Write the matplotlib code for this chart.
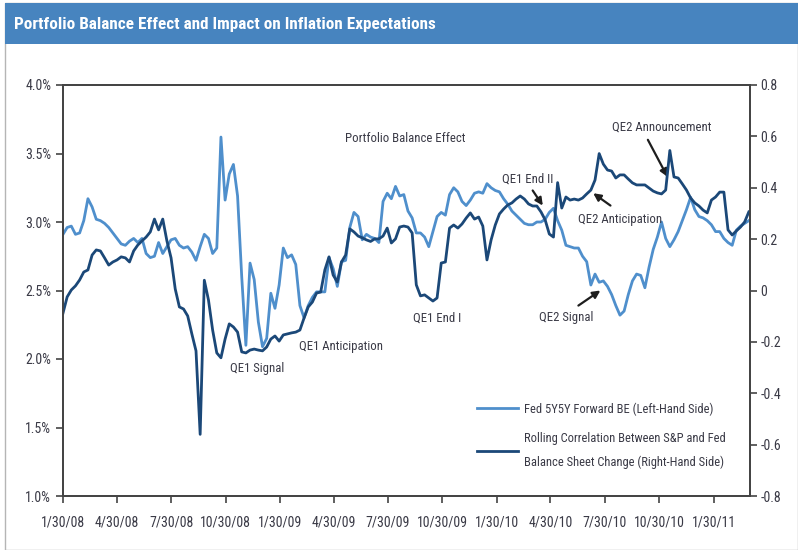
import matplotlib
matplotlib.use("Agg")
import matplotlib.pyplot as plt
import pandas as pd
from matplotlib import font_manager
from matplotlib.patches import Rectangle

avail = {f.name for f in font_manager.fontManager.ttflist}
cands = ['Roboto Condensed', 'Noto Sans Condensed', 'Liberation Sans Narrow',
         'Open Sans Condensed', 'Arial Narrow', 'Roboto', 'DejaVu Sans']
FONT = next(c for c in cands if c in avail)
plt.rcParams['font.family'] = [FONT, 'DejaVu Sans']

# ---------------- data ----------------
start_date = '2008-01-30'
n_weeks = 166

be_5y5y = [
    2.91, 2.96, 2.97, 2.91, 2.92, 3.01, 3.17, 3.11, 3.02, 3.01,
    2.99, 2.96, 2.92, 2.88, 2.84, 2.83, 2.86, 2.88, 2.85, 2.88,
    2.77, 2.74, 2.75, 2.85, 2.77, 2.82, 2.87, 2.88, 2.83, 2.81,
    2.82, 2.78, 2.72, 2.82, 2.91, 2.88, 2.77, 2.81, 3.62, 3.16,
    3.35, 3.42, 3.19, 2.60, 2.10, 2.70, 2.58, 2.27, 2.09, 2.15,
    2.48, 2.37, 2.54, 2.81, 2.74, 2.76, 2.69, 2.39, 2.30, 2.39,
    2.45, 2.49, 2.49, 2.49, 2.74, 2.66, 2.53, 2.71, 2.72, 2.96,
    3.07, 3.04, 2.87, 2.91, 2.89, 2.88, 2.85, 3.15, 3.21, 3.17,
    3.26, 3.19, 3.20, 3.08, 3.03, 2.92, 2.92, 2.89, 2.82, 2.93,
    3.04, 3.07, 3.05, 3.20, 3.25, 3.22, 3.15, 3.12, 3.16, 3.21,
    3.22, 3.21, 3.28, 3.25, 3.23, 3.22, 3.17, 3.13, 3.08, 3.05,
    3.02, 2.99, 2.98, 2.98, 3.00, 3.00, 3.02, 3.07, 3.10, 3.01,
    2.94, 2.83, 2.82, 2.81, 2.81, 2.75, 2.71, 2.54, 2.62, 2.56,
    2.57, 2.53, 2.47, 2.39, 2.32, 2.35, 2.47, 2.57, 2.62, 2.61,
    2.52, 2.67, 2.80, 2.89, 3.00, 2.88, 2.82, 2.87, 2.93, 3.01,
    3.09, 3.18, 3.09, 3.04, 3.03, 3.01, 2.98, 2.93, 2.93, 2.88,
    2.85, 2.83, 2.94, 2.97, 2.99, 3.01,
]

rolling_corr = [
    -0.088, -0.025, 0.002, 0.018, 0.041, 0.072, 0.080, 0.138, 0.158, 0.154,
    0.127, 0.099, 0.111, 0.119, 0.131, 0.127, 0.111, 0.154, 0.177, 0.193,
    0.208, 0.228, 0.278, 0.236, 0.278, 0.193, 0.127, 0.006, -0.064, -0.072,
    -0.099, -0.169, -0.235, -0.560, 0.040, -0.037, -0.154, -0.243, -0.262, -0.189,
    -0.130, -0.142, -0.162, -0.239, -0.243, -0.232, -0.228, -0.232, -0.235, -0.220,
    -0.189, -0.177, -0.197, -0.173, -0.169, -0.165, -0.162, -0.154, -0.107, -0.064,
    -0.045, -0.010, -0.006, 0.080, 0.131, 0.060, 0.033, 0.111, 0.138, 0.240,
    0.228, 0.212, 0.205, 0.197, 0.191, 0.201, 0.201, 0.212, 0.243, 0.185,
    0.201, 0.247, 0.251, 0.247, 0.224, 0.022, -0.021, -0.017, -0.029, -0.041,
    -0.029, 0.107, 0.111, 0.243, 0.255, 0.243, 0.259, 0.282, 0.302, 0.278,
    0.286, 0.251, 0.119, 0.197, 0.255, 0.298, 0.317, 0.333, 0.341, 0.356,
    0.368, 0.356, 0.337, 0.329, 0.329, 0.306, 0.275, 0.220, 0.208, 0.420,
    0.321, 0.364, 0.352, 0.356, 0.352, 0.360, 0.376, 0.391, 0.430, 0.533,
    0.492, 0.469, 0.465, 0.438, 0.450, 0.450, 0.434, 0.419, 0.411, 0.411,
    0.411, 0.399, 0.387, 0.380, 0.376, 0.391, 0.545, 0.442, 0.438, 0.415,
    0.391, 0.360, 0.341, 0.329, 0.313, 0.302, 0.352, 0.364, 0.383, 0.383,
    0.236, 0.216, 0.232, 0.247, 0.267, 0.306,
]

x_tick_dates = ['2008-01-30', '2008-04-30', '2008-07-30', '2008-10-30',
                '2009-01-30', '2009-04-30', '2009-07-30', '2009-10-30',
                '2010-01-30', '2010-04-30', '2010-07-30', '2010-10-30',
                '2011-01-30']
x_tick_labels = ['1/30/08', '4/30/08', '7/30/08', '10/30/08', '1/30/09', '4/30/09',
                 '7/30/09', '10/30/09', '1/30/10', '4/30/10', '7/30/10', '10/30/10',
                 '1/30/11']
left_ticks = [1.0, 1.5, 2.0, 2.5, 3.0, 3.5, 4.0]
left_tick_labels = ['1.0%', '1.5%', '2.0%', '2.5%', '3.0%', '3.5%', '4.0%']
right_ticks = [-0.8, -0.6, -0.4, -0.2, 0.0, 0.2, 0.4, 0.6, 0.8]
right_tick_labels = ['-0.8', '-0.6', '-0.4', '-0.2', '0', '0.2', '0.4', '0.6', '0.8']

series_labels = ['Fed 5Y5Y Forward BE (Left-Hand Side)',
                 'Rolling Correlation Between S&P and Fed\nBalance Sheet Change (Right-Hand Side)']

# text annotations: (text, date, left-axis value)
plain_notes = [
    ('Portfolio Balance Effect', '2009-08-28', 3.61),
    ('QE1 Signal', '2008-12-22', 1.93),
    ('QE1 Anticipation', '2009-05-12', 2.09),
    ('QE1 End I', '2009-10-21', 2.30),
]
# arrow annotations: (text, text date, text value, tail date, tail value, head date, head value)
arrow_notes = [
    ('QE1 End II', '2010-03-23', 3.31, '2010-03-31', 3.23, '2010-04-17', 3.12),
    ('QE2 Anticipation', '2010-08-25', 3.02, '2010-08-09', 3.12, '2010-07-11', 3.21),
    ('QE2 Signal', '2010-05-26', 2.30, '2010-06-16', 2.39, '2010-07-23', 2.50),
    ('QE2 Announcement', '2010-11-03', 3.69, '2010-10-11', 3.60, '2010-11-13', 3.33),
]

title = 'Portfolio Balance Effect and Impact on Inflation Expectations'

# ---------------- style ----------------
LIGHT = '#4f8fcc'
DARK = '#1b4878'
AXC = '#444444'
TXT = '#3a3a46'

dates = pd.date_range(start_date, periods=n_weeks, freq='7D')

fig = plt.figure(figsize=(7.98, 5.50), dpi=100)
W, H = 798.0, 550.0

# frame + title bar (behind the axes)
fig.add_artist(Rectangle((5 / W, 0), 1 - 5 / W, 1 - 3 / H, transform=fig.transFigure,
                         facecolor='white', edgecolor='#b5b5b5', lw=1.0, zorder=-5))
fig.add_artist(Rectangle((5 / W, 1 - 44 / H), 1 - 5 / W, 41 / H, transform=fig.transFigure,
                         facecolor='#4784bf', edgecolor='none', zorder=-4))
fig.text(14 / W, 1 - 24 / H, title, color='white', fontsize=12.3, fontweight='bold',
         va='center', ha='left')

ax = fig.add_axes([63 / W, 54 / H, 687 / W, 411 / H])
ax2 = ax.twinx()
ax.patch.set_alpha(0)

l1, = ax.plot(dates, be_5y5y, color=LIGHT, lw=2.0, label=series_labels[0])
l2, = ax2.plot(dates, rolling_corr, color=DARK, lw=2.0, label=series_labels[1])

ax.set_xlim(pd.Timestamp('2008-01-30'), pd.Timestamp('2011-04-01'))
ax.set_ylim(1.0, 4.0)
ax2.set_ylim(-0.8, 0.8)

ax.set_xticks(pd.to_datetime(x_tick_dates))
ax.set_xticklabels(x_tick_labels)
ax.set_yticks(left_ticks)
ax.set_yticklabels(left_tick_labels)
ax2.set_yticks(right_ticks)
ax2.set_yticklabels(right_tick_labels)

for a in (ax, ax2):
    for s in a.spines.values():
        s.set_color(AXC)
        s.set_linewidth(1.3)
    a.tick_params(direction='out', length=5, width=1.2, color=AXC,
                  labelcolor=TXT, labelsize=10)
ax.tick_params(axis='x', pad=9)
ax.tick_params(axis='y', pad=3.5)
ax2.tick_params(axis='y', pad=2.5)

for txt, d, v in plain_notes:
    ax.text(pd.Timestamp(d), v, txt, ha='center', va='center', fontsize=9.2, color=TXT)

for txt, td, tv, ad, av, hd, hv in arrow_notes:
    ax.text(pd.Timestamp(td), tv, txt, ha='center', va='center', fontsize=9.2, color=TXT)
    ax.annotate('', xy=(pd.Timestamp(hd), hv), xytext=(pd.Timestamp(ad), av),
                arrowprops=dict(arrowstyle='-|>', color='#1e1e1e', lw=1.6,
                                mutation_scale=11, shrinkA=0, shrinkB=0))

leg = ax2.legend(handles=[l1, l2], loc='upper left', bbox_to_anchor=(0.6026, 0.228),
                 frameon=False, fontsize=9, handlelength=3.3, handletextpad=0.45,
                 labelspacing=1.28, borderaxespad=0, borderpad=0)
for t in leg.get_texts():
    t.set_color(TXT)
    t.set_linespacing(2.08)

fig.savefig('out.png', dpi=100, facecolor='white')
